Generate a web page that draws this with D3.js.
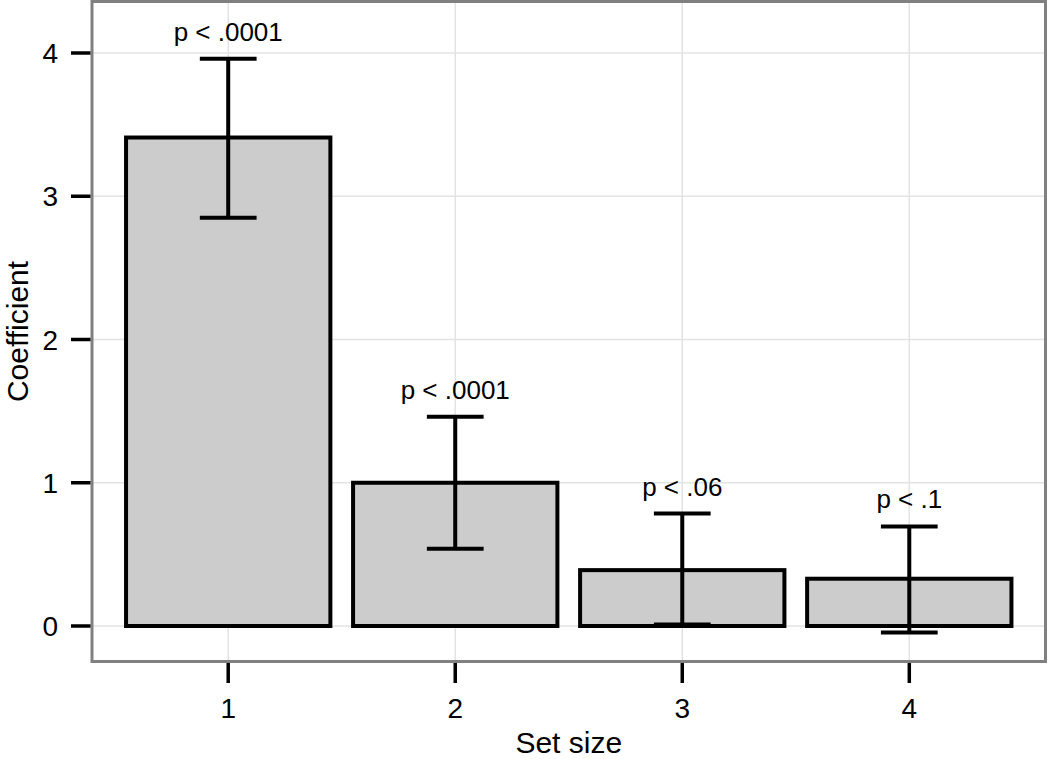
<!DOCTYPE html>
<html>
<head>
<meta charset="utf-8">
<script src="https://cdn.jsdelivr.net/npm/d3@7/dist/d3.min.js"></script>
<style>
  html, body { margin: 0; padding: 0; background: #fff; }
  svg { display: block; font-family: "Liberation Sans", Arial, sans-serif; }
</style>
</head>
<body>
<svg id="chart" width="1050" height="759"></svg>
<script>
const categories = [1, 2, 3, 4];
const coefficients = [3.41, 1.00, 0.39, 0.33];
const lowerCI = [2.85, 0.54, 0.01, -0.045];
const upperCI = [3.96, 1.46, 0.785, 0.695];
const pLabels = ["p < .0001", "p < .0001", "p < .06", "p < .1"];
const yTicks = [0, 1, 2, 3, 4];

const svg = d3.select("#chart");
const panel = { left: 92, right: 1045.5, top: 1.5, bottom: 661.5 };

const x = d3.scaleLinear().domain([0.4, 4.6]).range([panel.left, panel.right]);
const y = d3.scaleLinear().domain([0, 4]).range([626, 53]);

const data = categories.map((c, i) => ({
  c, v: coefficients[i], lo: lowerCI[i], hi: upperCI[i], p: pLabels[i]
}));

// grid
const g = svg.append("g");
g.selectAll(".hg").data(yTicks).enter().append("line")
  .attr("x1", panel.left).attr("x2", panel.right)
  .attr("y1", d => y(d)).attr("y2", d => y(d))
  .attr("stroke", "#e3e3e3").attr("stroke-width", 1.5);
g.selectAll(".vg").data(categories).enter().append("line")
  .attr("y1", panel.top).attr("y2", panel.bottom)
  .attr("x1", d => x(d)).attr("x2", d => x(d))
  .attr("stroke", "#e3e3e3").attr("stroke-width", 1.5);

// bars
const bw = x(0.9) - x(0);
svg.selectAll(".bar").data(data).enter().append("rect")
  .attr("x", d => x(d.c) - bw / 2)
  .attr("width", bw)
  .attr("y", d => y(d.v))
  .attr("height", d => y(0) - y(d.v))
  .attr("fill", "#cccccc")
  .attr("stroke", "#000").attr("stroke-width", 4);

// error bars
const cw = x(0.25) - x(0);
const eb = svg.selectAll(".eb").data(data).enter().append("g");
eb.append("line")
  .attr("x1", d => x(d.c)).attr("x2", d => x(d.c))
  .attr("y1", d => y(d.hi)).attr("y2", d => y(d.lo))
  .attr("stroke", "#000").attr("stroke-width", 4);
eb.append("line")
  .attr("x1", d => x(d.c) - cw / 2).attr("x2", d => x(d.c) + cw / 2)
  .attr("y1", d => y(d.hi)).attr("y2", d => y(d.hi))
  .attr("stroke", "#000").attr("stroke-width", 4);
eb.append("line")
  .attr("x1", d => x(d.c) - cw / 2).attr("x2", d => x(d.c) + cw / 2)
  .attr("y1", d => y(d.lo)).attr("y2", d => y(d.lo))
  .attr("stroke", "#000").attr("stroke-width", 4);

// p labels
svg.selectAll(".pl").data(data).enter().append("text")
  .attr("x", d => x(d.c))
  .attr("y", d => y(d.hi) - 18)
  .attr("text-anchor", "middle")
  .attr("font-size", 26)
  .attr("fill", "#000")
  .text(d => d.p);

// panel border
svg.append("rect")
  .attr("x", panel.left).attr("y", panel.top)
  .attr("width", panel.right - panel.left).attr("height", panel.bottom - panel.top)
  .attr("fill", "none").attr("stroke", "#808080").attr("stroke-width", 3);

// y axis
const yAxis = svg.append("g");
yAxis.selectAll(".yt").data(yTicks).enter().append("line")
  .attr("x1", 71).attr("x2", 90.5)
  .attr("y1", d => y(d)).attr("y2", d => y(d))
  .attr("stroke", "#000").attr("stroke-width", 3.5);
yAxis.selectAll(".yl").data(yTicks).enter().append("text")
  .attr("x", 58).attr("y", d => y(d) + 10)
  .attr("text-anchor", "end")
  .attr("font-size", 28)
  .attr("fill", "#000")
  .text(d => d3.format("d")(d));

// x axis
const xAxis = svg.append("g");
xAxis.selectAll(".xt").data(categories).enter().append("line")
  .attr("x1", d => x(d)).attr("x2", d => x(d))
  .attr("y1", 663).attr("y2", 683)
  .attr("stroke", "#000").attr("stroke-width", 3.5);
xAxis.selectAll(".xl").data(categories).enter().append("text")
  .attr("x", d => x(d)).attr("y", 718)
  .attr("text-anchor", "middle")
  .attr("font-size", 28)
  .attr("fill", "#000")
  .text(d => d);

// titles
svg.append("text")
  .attr("x", (panel.left + panel.right) / 2).attr("y", 753)
  .attr("text-anchor", "middle")
  .attr("font-size", 30)
  .text("Set size");
svg.append("text")
  .attr("transform", `translate(28, ${(panel.top + panel.bottom) / 2}) rotate(-90)`)
  .attr("text-anchor", "middle")
  .attr("font-size", 30)
  .text("Coefficient");
</script>
</body>
</html>
